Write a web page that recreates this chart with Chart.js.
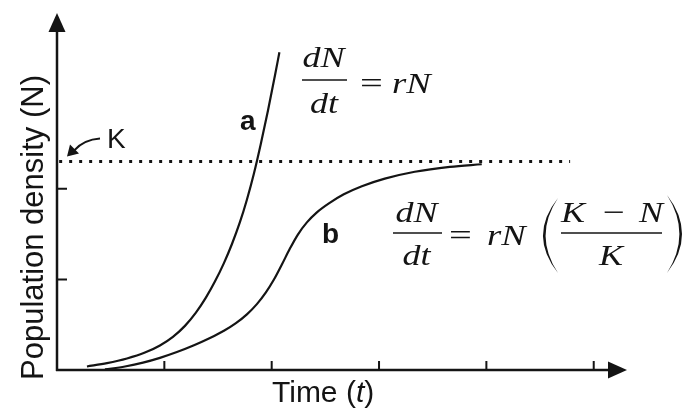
<!DOCTYPE html>
<html>
<head>
<meta charset="utf-8">
<script src="https://cdn.jsdelivr.net/npm/chart.js@4.4.1/dist/chart.umd.min.js"></script>
<style>
    body { margin: 0; background: #fff; }
    #wrap { width: 689px; height: 412px; }
</style>
</head>
<body>
<div id="wrap"><canvas id="canvas-id-1"></canvas></div>
<script>
// tick positions along the axes (no labels in the picture)
const timeTicks = [1, 2, 3, 4, 5]
const densityTicks = [1, 2]

// carrying capacity K and the extent of its dotted line
const carryingCapacity = 2.3
const kLineTime = [0.02, 4.78]

// curve a: exponential growth
const curveATime    = [0.279, 0.466, 0.652, 0.819, 0.959, 1.080, 1.192, 1.294, 1.387, 1.471,
                       1.555, 1.629, 1.704, 1.769, 1.834, 1.899, 1.965, 2.030, 2.072]
const curveADensity = [0.039, 0.076, 0.127, 0.192, 0.271, 0.366, 0.487, 0.633, 0.799, 0.976,
                       1.180, 1.388, 1.631, 1.879, 2.165, 2.497, 2.861, 3.248, 3.506]

// curve b: logistic growth
const curveBTime    = [0.447, 0.633, 0.801, 0.959, 1.117, 1.276, 1.425, 1.555, 1.667, 1.769,
                       1.862, 1.946, 2.021, 2.095, 2.170, 2.244, 2.328, 2.421, 2.533, 2.672,
                       2.840, 3.054, 3.333, 3.659, 3.957]
const curveBDensity = [0.006, 0.039, 0.081, 0.134, 0.198, 0.273, 0.353, 0.433, 0.517, 0.614,
                       0.727, 0.856, 0.998, 1.164, 1.340, 1.495, 1.629, 1.740, 1.839, 1.939,
                       2.028, 2.112, 2.188, 2.242, 2.271]

const INK = '#141414'
const SANS = '"Liberation Sans", Arial, sans-serif'
const MATH_IT = 'italic 30px "Liberation Serif", serif'
const MATH_UP = '30px "Liberation Serif", serif'


function toPoints(xs, ys) {
    return xs.map((v, i) => ({ x: v, y: ys[i] }))
}

// Times glyphs are narrower than the TeX ones in the picture, so stretch them
function mathText(ctx, text, x, y, align, sx, font) {
    ctx.save()
    ctx.font = font || MATH_IT
    ctx.translate(x, y)
    ctx.scale(sx, 1)
    ctx.textAlign = align
    ctx.fillText(text, 0, 0)
    ctx.restore()
}

function bar(ctx, x1, x2, yBar) {
    ctx.beginPath()
    ctx.lineWidth = 1.6
    ctx.moveTo(x1, yBar)
    ctx.lineTo(x2, yBar)
    ctx.stroke()
}

function paren(ctx, xEnd, yTop, yBot, bulge, thick) {
    // filled crescent shaped like a tall TeX parenthesis
    const mid = (yTop + yBot) / 2
    ctx.beginPath()
    ctx.moveTo(xEnd, yTop)
    ctx.quadraticCurveTo(xEnd - 2 * bulge, mid, xEnd, yBot)
    ctx.quadraticCurveTo(xEnd - 2 * bulge + 2 * thick, mid, xEnd, yTop)
    ctx.fill()
}

const diagramPlugin = {
    id: 'diagram',
    afterDatasetsDraw(chart) {
        const { ctx, chartArea: area, scales: { x, y } } = chart
        const left = area.left, bottom = area.bottom
        ctx.save()
        ctx.strokeStyle = INK
        ctx.fillStyle = INK
        ctx.lineCap = 'butt'
        ctx.textBaseline = 'alphabetic'

        // axes with arrow heads
        ctx.lineWidth = 2.5
        ctx.beginPath()
        ctx.moveTo(left, bottom + 1)
        ctx.lineTo(left, area.top + 16)
        ctx.moveTo(left - 1, bottom)
        ctx.lineTo(area.right - 16, bottom)
        ctx.stroke()

        ctx.beginPath()
        ctx.moveTo(left, area.top)
        ctx.lineTo(left - 8.5, area.top + 19)
        ctx.lineTo(left + 8.5, area.top + 19)
        ctx.closePath()
        ctx.fill()

        ctx.beginPath()
        ctx.moveTo(area.right, bottom)
        ctx.lineTo(area.right - 19, bottom - 8.5)
        ctx.lineTo(area.right - 19, bottom + 8.5)
        ctx.closePath()
        ctx.fill()

        // inward tick marks
        ctx.lineWidth = 2
        ctx.beginPath()
        timeTicks.forEach(v => {
            const px = x.getPixelForValue(v)
            ctx.moveTo(px, bottom)
            ctx.lineTo(px, bottom - 9)
        })
        densityTicks.forEach(v => {
            const py = y.getPixelForValue(v)
            ctx.moveTo(left, py)
            ctx.lineTo(left + 10, py)
        })
        ctx.stroke()

        // axis titles
        ctx.textAlign = 'left'
        ctx.font = '30px ' + SANS
        ctx.fillText('Time (', 272, 402)
        let w = ctx.measureText('Time (').width
        ctx.font = 'italic 30px ' + SANS
        ctx.fillText('t', 272 + w, 402)
        w += ctx.measureText('t').width
        ctx.font = '30px ' + SANS
        ctx.fillText(')', 272 + w, 402)

        ctx.save()
        ctx.translate(43, 380)
        ctx.rotate(-Math.PI / 2)
        ctx.font = '31px ' + SANS
        ctx.fillText('Population density (N)', 0, 0)
        ctx.restore()

        // curve labels
        ctx.font = 'bold 28px ' + SANS
        ctx.fillText('a', 240, 130)
        ctx.fillText('b', 322, 243)

        // K label with curved arrow
        ctx.font = '28px ' + SANS
        ctx.fillText('K', 107, 148)
        const kY = y.getPixelForValue(carryingCapacity)
        const tipX = left + 10, tipY = kY - 5
        ctx.lineWidth = 2
        ctx.beginPath()
        ctx.moveTo(100, kY - 23)
        ctx.quadraticCurveTo(84, kY - 22, tipX + 7, tipY - 6)
        ctx.stroke()
        ctx.beginPath()
        ctx.moveTo(tipX, tipY)
        ctx.lineTo(tipX + 3, tipY - 12)
        ctx.lineTo(tipX + 12, tipY - 3)
        ctx.closePath()
        ctx.fill()

        // dN/dt = rN
        mathText(ctx, 'dN', 323.5, 67, 'center', 1.2)
        bar(ctx, 302, 347, 80)
        mathText(ctx, 'dt', 324, 113, 'center', 1.2)
        mathText(ctx, '=', 371.5, 93, 'center', 1.35, MATH_UP)
        mathText(ctx, 'rN', 392, 93, 'left', 1.22)

        // dN/dt = rN ((K - N) / K)
        mathText(ctx, 'dN', 416.5, 222, 'center', 1.2)
        bar(ctx, 393, 442, 233)
        mathText(ctx, 'dt', 416.5, 265, 'center', 1.2)
        mathText(ctx, '=', 460.5, 245, 'center', 1.35, MATH_UP)
        mathText(ctx, 'rN', 487, 245, 'left', 1.22)
        paren(ctx, 558, 198, 273, 15, 2.6)
        ctx.save()
        ctx.translate(1225, 0)
        ctx.scale(-1, 1)
        paren(ctx, 558, 195, 273, 15, 2.6)
        ctx.restore()
        mathText(ctx, 'K', 561, 222, 'left', 1.2)
        mathText(ctx, '\u2212', 614, 222, 'center', 1.3, MATH_UP)
        mathText(ctx, 'N', 663, 222, 'right', 1.2)
        bar(ctx, 561, 662, 233)
        mathText(ctx, 'K', 611, 265, 'center', 1.2)

        ctx.restore()
    }
}


window.onload = () => {
    const lineStyle = {
        showLine: true,
        borderColor: INK,
        borderWidth: 2.2,
        pointRadius: 0,
        fill: false,
        cubicInterpolationMode: 'monotone'
    }

    new Chart(document.getElementById('canvas-id-1'), {
        type: 'scatter',
        data: {
            datasets: [
                { label: 'K', data: toPoints(kLineTime, [carryingCapacity, carryingCapacity]),
                  showLine: true, borderColor: INK, borderWidth: 3, borderDash: [3, 7],
                  borderCapStyle: 'butt', pointRadius: 0 },
                { label: 'a', data: toPoints(curveATime, curveADensity), ...lineStyle },
                { label: 'b', data: toPoints(curveBTime, curveBDensity), ...lineStyle }
            ]
        },
        options: {
            responsive: true,
            maintainAspectRatio: false,
            animation: false,
            layout: { padding: { left: 57, right: 62, top: 13, bottom: 42 } },
            plugins: { legend: { display: false }, tooltip: { enabled: false } },
            scales: {
                x: { type: 'linear', min: 0, max: 5.31, display: false },
                y: { type: 'linear', min: 0, max: 3.94, display: false }
            }
        },
        plugins: [diagramPlugin]
    })
}
</script>
</body>
</html>
